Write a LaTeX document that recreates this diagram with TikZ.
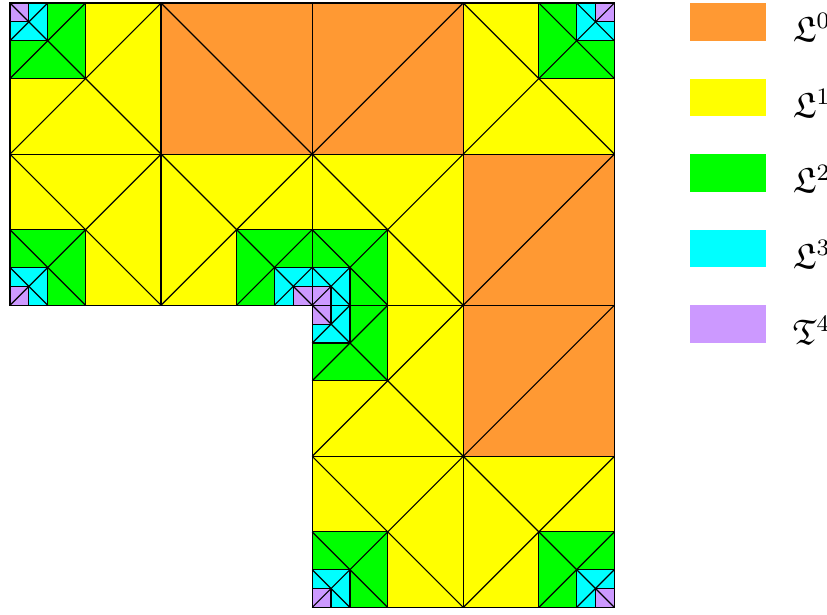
\documentclass[tikz,border=0pt]{standalone}
\usepackage{amssymb}
\usetikzlibrary{positioning}
\definecolor{lvlzero}{RGB}{255,153,51}
\definecolor{lvlone}{RGB}{255,255,0}
\definecolor{lvltwo}{RGB}{0,255,0}
\definecolor{lvlthree}{RGB}{0,255,255}
\definecolor{lvlfour}{RGB}{204,153,255}

\begin{document}
\begin{tikzpicture}[
        x=1.8cm, y=1.8cm,
        cell/.style={draw=black, line width=0.4pt},
        legbox/.style={draw=none, inner sep=0pt, outer sep=0pt, minimum width=0.9cm, minimum height=0.45cm},
        leglabel/.style={font=\large, inner sep=0pt}
    ]
    \useasboundingbox (-0.066,-0.046) rectangle (5.407,4.02);

    % Level 0 (coarse squares, one diagonal)
    \foreach \x/\y in {1/3, 2/3, 3/2, 3/1}
        \filldraw[cell, fill=lvlzero] (\x,\y) rectangle ++(1,1);
    \draw[cell] (1,4) -- (2,3);
    \draw[cell] (2,3) -- (3,4);
    \draw[cell] (3,2) -- (4,3);
    \draw[cell] (3,1) -- (4,2);

    % Refined squares: corner (cx,cy), direction (dx,dy)
    \foreach \cx/\cy/\dx/\dy in {0/4/1/-1, 0/2/1/1, 2/2/-1/1, 2/2/1/1, 2/2/1/-1, 4/4/-1/-1, 2/0/1/1, 4/0/-1/1} {
        \filldraw[cell, fill=lvlone] (\cx,\cy) rectangle ++(\dx,\dy);
        \filldraw[cell, fill=lvltwo] (\cx,\cy) rectangle ++(\dx/2,\dy/2);
        \filldraw[cell, fill=lvlthree] (\cx,\cy) rectangle ++(\dx/4,\dy/4);
        \filldraw[cell, fill=lvlfour] (\cx,\cy) rectangle ++(\dx/8,\dy/8);
        \draw[cell] (\cx,\cy) -- ++(\dx,\dy);
        \draw[cell] ({\cx+\dx},\cy) -- (\cx,{\cy+\dy});
        \draw[cell] ({\cx+\dx/2},\cy) -- (\cx,{\cy+\dy/2});
        \draw[cell] ({\cx+\dx/4},\cy) -- (\cx,{\cy+\dy/4});
    }

    % Legend
    \node[legbox, fill=lvlzero] (lg0) at (4.75,3.875) {};
    \node[legbox, fill=lvlone, below=0.45cm of lg0] (lg1) {};
    \node[legbox, fill=lvltwo, below=0.45cm of lg1] (lg2) {};
    \node[legbox, fill=lvlthree, below=0.45cm of lg2] (lg3) {};
    \node[legbox, fill=lvlfour, below=0.45cm of lg3] (lg4) {};
    \node[leglabel, right=0.32cm of lg0, yshift=-2pt] (lt0) {$\mathfrak{L}^0$};
    \node[leglabel, right=0.32cm of lg1, yshift=-2pt] (lt1) {$\mathfrak{L}^1$};
    \node[leglabel, right=0.32cm of lg2, yshift=-2pt] (lt2) {$\mathfrak{L}^2$};
    \node[leglabel, right=0.32cm of lg3, yshift=-2pt] (lt3) {$\mathfrak{L}^3$};
    \node[leglabel, right=0.32cm of lg4, yshift=-2pt] (lt4) {$\mathfrak{T}^4$};

\end{tikzpicture}
\end{document}
